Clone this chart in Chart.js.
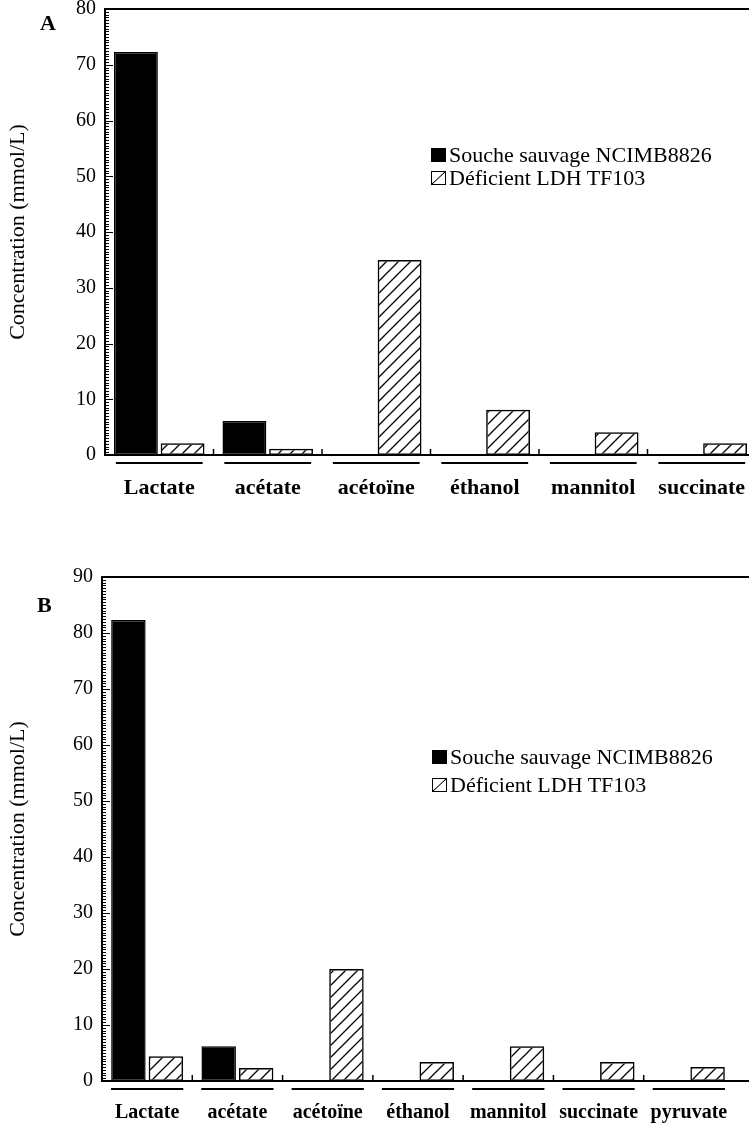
<!DOCTYPE html>
<html>
<head>
<meta charset="utf-8">
<script src="https://cdn.jsdelivr.net/npm/chart.js@4.4.0/dist/chart.umd.min.js"></script>
<style>
html, body { margin: 0; padding: 0; background: #fff; overflow: hidden; width: 749px; height: 1126px; }
body { position: relative; font-family: 'Liberation Serif', 'Times New Roman', serif; color: #000; }
.wrap { position: absolute; left: 0; }
#wrapA { top: 0; width: 760px; height: 510px; }
#wrapB { top: 560px; width: 749px; height: 566px; }
.letter { position: absolute; font-weight: bold; font-size: 22px; line-height: 26px; }
.legRow { position: absolute; display: flex; align-items: center; height: 24px; font-size: 22px; white-space: nowrap; }
.legBox { width: 15px; height: 14px; margin-right: 3px; box-sizing: border-box; border: 1.5px solid #000; }
.legBox.solid { background: #000; }
.legBox.hatch { background: linear-gradient(to bottom right, transparent calc(50% - 0.9px), #000 50%, transparent calc(50% + 0.9px)); }
</style>
</head>
<body>
<div class="wrap" id="wrapA"><canvas id="chartA" width="760" height="510"></canvas></div>
<div class="wrap" id="wrapB"><canvas id="chartB" width="749" height="566"></canvas></div>
<div class="letter" style="left:40px;top:10px">A</div>
<div class="letter" style="left:37px;top:592px">B</div>
<div id="legA"></div>
<div id="legB"></div>
<script>
// data (mmol/L)
var seriesNames = ['Souche sauvage NCIMB8826', 'Déficient LDH TF103'];
var yTitle = 'Concentration (mmol/L)';

var categoriesA = ['Lactate', 'acétate', 'acétoïne', 'éthanol', 'mannitol', 'succinate'];
var wildA = [72.3, 6.1, 0, 0, 0, 0];
var deficientA = [2.1, 1.1, 35, 8.1, 4.1, 2.1];
var yTicksA = { max: 80, step: 10 };

var categoriesB = ['Lactate', 'acétate', 'acétoïne', 'éthanol', 'mannitol', 'succinate', 'pyruvate'];
var wildB = [82.3, 6.2, 0, 0, 0, 0, 0];
var deficientB = [4.4, 2.3, 20, 3.4, 6.2, 3.4, 2.5];
var yTicksB = { max: 90, step: 10 };

var FONT = "'Liberation Serif', 'Times New Roman', serif";

function makeHatch() {
    var c = document.createElement('canvas');
    c.width = 12; c.height = 12;
    var g = c.getContext('2d');
    g.strokeStyle = '#000';
    g.lineWidth = 1.3;
    g.beginPath();
    g.moveTo(0, 12); g.lineTo(12, 0);
    g.moveTo(-3, 3); g.lineTo(3, -3);
    g.moveTo(9, 15); g.lineTo(15, 9);
    g.stroke();
    return g.createPattern(c, 'repeat');
}

// axis frame, inward ruler ticks, category separators and underlines
var framePlugin = {
    id: 'frame',
    afterDatasetsDraw: function(chart) {
        var ctx = chart.ctx, a = chart.chartArea;
        var x = chart.scales.x, y = chart.scales.y;
        var W = chart.width;
        ctx.save();
        ctx.strokeStyle = '#000';
        ctx.lineCap = 'butt';

        // ruler ticks on the y axis
        ctx.lineWidth = 1;
        for (var v = 0; v <= y.max + 0.01; v += 0.5) {
            var py = Math.round(y.getPixelForValue(v)) + 0.5;
            var len = (v % 10 === 0) ? 8 : 4;
            ctx.beginPath();
            ctx.moveTo(a.left, py);
            ctx.lineTo(a.left + len, py);
            ctx.stroke();
        }

        // frame: left axis, bottom axis, top line run off the right edge
        ctx.lineWidth = 2;
        ctx.beginPath();
        ctx.moveTo(a.left, a.top);
        ctx.lineTo(W, a.top);
        ctx.moveTo(a.left, a.top - 1);
        ctx.lineTo(a.left, a.bottom + 1);
        ctx.moveTo(a.left, a.bottom);
        ctx.lineTo(W, a.bottom);
        ctx.stroke();

        var n = x.getLabels().length;
        var catW = (a.right - a.left) / n;
        // small separators between categories
        ctx.lineWidth = 1.5;
        for (var i = 1; i < n; i++) {
            var sx = (x.getPixelForValue(i - 1) + x.getPixelForValue(i)) / 2;
            ctx.beginPath();
            ctx.moveTo(sx, a.bottom);
            ctx.lineTo(sx, a.bottom - 6);
            ctx.stroke();
        }
        // underline below each group
        ctx.lineWidth = 2;
        for (var j = 0; j < n; j++) {
            var cx = x.getPixelForValue(j);
            ctx.beginPath();
            ctx.moveTo(cx - catW * 0.4, a.bottom + 8);
            ctx.lineTo(cx + catW * 0.4, a.bottom + 8);
            ctx.stroke();
        }
        ctx.restore();
    }
};

function buildChart(canvasId, categories, wild, deficient, yTicks, cfg) {
    var ctx = document.getElementById(canvasId);
    return new Chart(ctx, {
        type: 'bar',
        data: {
            labels: categories,
            datasets: [{
                label: seriesNames[0],
                data: wild,
                backgroundColor: '#000',
                borderColor: '#000',
                borderWidth: 1.5,
                borderSkipped: false
            }, {
                label: seriesNames[1],
                data: deficient,
                backgroundColor: makeHatch(),
                borderColor: '#000',
                borderWidth: 1.5,
                borderSkipped: false
            }]
        },
        options: {
            responsive: false,
            animation: false,
            devicePixelRatio: 1,
            categoryPercentage: cfg.catPct,
            barPercentage: cfg.barPct,
            layout: { padding: { top: cfg.padTop, right: cfg.padRight, left: 0, bottom: 0 } },
            plugins: { legend: { display: false }, tooltip: { enabled: false } },
            scales: {
                x: {
                    offset: true,
                    grid: { display: false, drawTicks: false },
                    border: { display: false },
                    ticks: {
                        color: '#000',
                        autoSkip: false,
                        maxRotation: 0,
                        padding: cfg.labelPad,
                        font: { family: FONT, size: cfg.labelSize, weight: 'bold' }
                    },
                    afterFit: function(s) { s.height = cfg.xHeight; s.paddingLeft = 0; s.paddingRight = 0; }
                },
                y: {
                    min: 0,
                    max: yTicks.max,
                    grid: { display: false, drawTicks: false },
                    border: { display: false },
                    ticks: {
                        stepSize: yTicks.step,
                        color: '#000',
                        padding: 9,
                        font: { family: FONT, size: 20 }
                    },
                    title: {
                        display: true,
                        text: yTitle,
                        color: '#000',
                        padding: { top: 5, bottom: 0 },
                        font: { family: FONT, size: 22 }
                    },
                    afterFit: function(s) { s.width = cfg.yWidth; s.paddingTop = 0; s.paddingBottom = 0; }
                }
            }
        },
        plugins: [framePlugin]
    });
}

function buildLegend(id, left, tops) {
    var html = '';
    seriesNames.forEach(function(name, i) {
        html += '<div class="legRow" style="left:' + left + 'px;top:' + tops[i] + 'px">' +
            '<div class="legBox ' + (i === 0 ? 'solid' : 'hatch') + '"></div>' + name + '</div>';
    });
    document.getElementById(id).innerHTML = html;
}

buildChart('chartA', categoriesA, wildA, deficientA, yTicksA, {
    padTop: 9, padRight: 4, xHeight: 55, yWidth: 105,
    labelSize: 22, labelPad: 20, catPct: 0.86, barPct: 0.94
});
buildChart('chartB', categoriesB, wildB, deficientB, yTicksB, {
    padTop: 17, padRight: 15, xHeight: 45, yWidth: 102,
    labelSize: 20, labelPad: 20, catPct: 0.83, barPct: 0.92
});
buildLegend('legA', 431, [143, 166]);
buildLegend('legB', 432, [745, 773]);
</script>
</body>
</html>
